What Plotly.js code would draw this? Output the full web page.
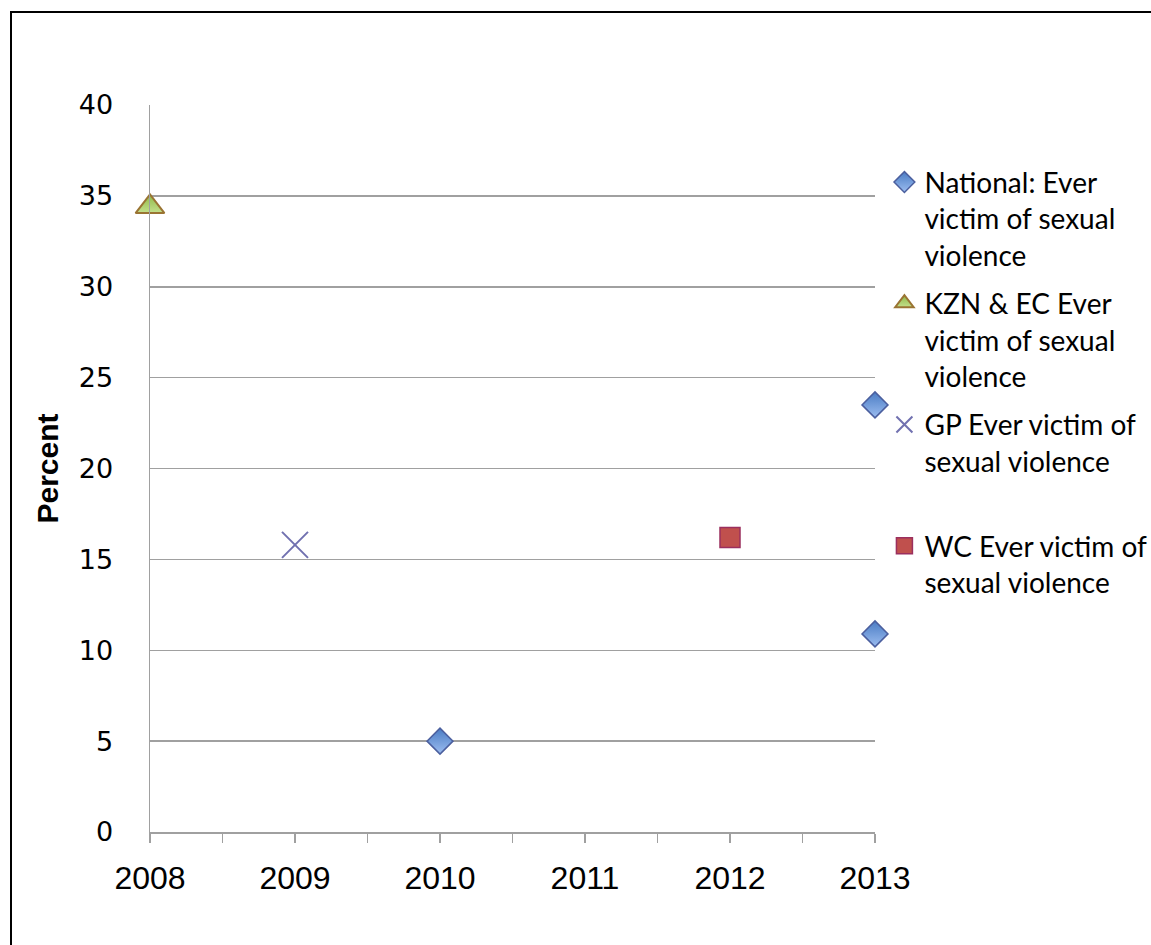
<!DOCTYPE html>
<html>
<head>
<meta charset="utf-8">
<script src="https://cdn.plot.ly/plotly-3.0.1.min.js"></script>
<style>
html,body{margin:0;padding:0;background:#fff;overflow:hidden}
#chart{position:absolute;left:0;top:0;width:1151px;height:945px}
#frame{position:absolute;left:10px;top:11px;width:1300px;height:1100px;border-left:2px solid #000;border-top:2px solid #000;pointer-events:none}
</style>
</head>
<body>
<div id="chart"></div>
<div id="frame"></div>
<script>
// Data
const nationalYears = [2010, 2013, 2013];
const nationalValues = [5.0, 23.5, 10.9];
const kznYears = [2008];
const kznValues = [34.4];
const gpYears = [2009];
const gpValues = [15.8];
const wcYears = [2012];
const wcValues = [16.2];

const seriesNames = [
  "National: Ever<br>victim of sexual<br>violence",
  "KZN & EC Ever<br>victim of sexual<br>violence",
  "GP Ever victim of<br>sexual violence<br>\u00a0",
  "WC Ever victim of<br>sexual violence"
];

const xTickVals = [2008, 2008.5, 2009, 2009.5, 2010, 2010.5, 2011, 2011.5, 2012, 2012.5, 2013];
const xTickText = ["2008", "", "2009", "", "2010", "", "2011", "", "2012", "", "2013"];
const yTickVals = [0, 5, 10, 15, 20, 25, 30, 35, 40];

const traces = [
  {
    x: nationalYears, y: nationalValues, name: seriesNames[0], legendgroup: "a",
    type: "scatter", mode: "markers", cliponaxis: false,
    marker: {symbol: "diamond", size: 20, color: "#4a7cc4",
      gradient: {type: "vertical", color: "#9cbdf0"},
      line: {color: "#4b5f9e", width: 1.5}}
  },
  {
    x: kznYears, y: kznValues, name: seriesNames[1], legendgroup: "b",
    type: "scatter", mode: "markers", cliponaxis: false,
    marker: {symbol: "triangle-up", size: 25, color: "#8fb848",
      gradient: {type: "vertical", color: "#c4e08c"},
      line: {color: "#9a7433", width: 2}}
  },
  {
    x: gpYears, y: gpValues, name: seriesNames[2], legendgroup: "c",
    type: "scatter", mode: "markers", cliponaxis: false,
    marker: {symbol: "x-thin", size: 26, color: "#7171b0",
      line: {color: "#7171b0", width: 2}}
  },
  {
    x: wcYears, y: wcValues, name: seriesNames[3], legendgroup: "d",
    type: "scatter", mode: "markers", cliponaxis: false,
    marker: {symbol: "square", size: 20, color: "#c0504d",
      line: {color: "#9b2f5e", width: 1.5}}
  }
];

const layout = {
  width: 1151, height: 945,
  paper_bgcolor: "#fff", plot_bgcolor: "#fff",
  margin: {l: 150, r: 276, t: 105, b: 113, autoexpand: false},
  showlegend: true,
  legend: {
    x: 1.013, xanchor: "left", y: 0.928, yanchor: "top",
    valign: "top",
    font: {family: "Lato, 'Noto Sans', sans-serif", size: 28, color: "#000"},
    tracegroupgap: 9, itemwidth: 30,
    bgcolor: "rgba(0,0,0,0)"
  },
  xaxis: {
    range: [2008, 2013], fixedrange: true,
    tickmode: "array", tickvals: xTickVals, ticktext: xTickText,
    ticks: "outside", ticklen: 9, tickwidth: 1.5, tickcolor: "#a0a0a0",
    showline: true, linecolor: "#a0a0a0", linewidth: 1.5,
    showgrid: false, zeroline: false,
    ticklabelstandoff: 8,
    tickfont: {family: "'Liberation Sans', sans-serif", size: 32, color: "#000"}
  },
  yaxis: {
    range: [0, 40], fixedrange: true,
    tickmode: "array", tickvals: yTickVals,
    ticks: "", showline: true, linecolor: "#a0a0a0", linewidth: 1.5,
    showgrid: true, gridcolor: "#a0a0a0", gridwidth: 1.5,
    zeroline: false,
    ticklabelstandoff: 30,
    tickfont: {family: "'DejaVu Sans', sans-serif", size: 27, color: "#000"},
    title: {text: "Percent", standoff: 11,
      font: {family: "'Liberation Sans', sans-serif", size: 30, color: "#000", weight: "bold"}}
  }
};

Plotly.newPlot("chart", traces, layout, {displayModeBar: false, staticPlot: true});
</script>
</body>
</html>
